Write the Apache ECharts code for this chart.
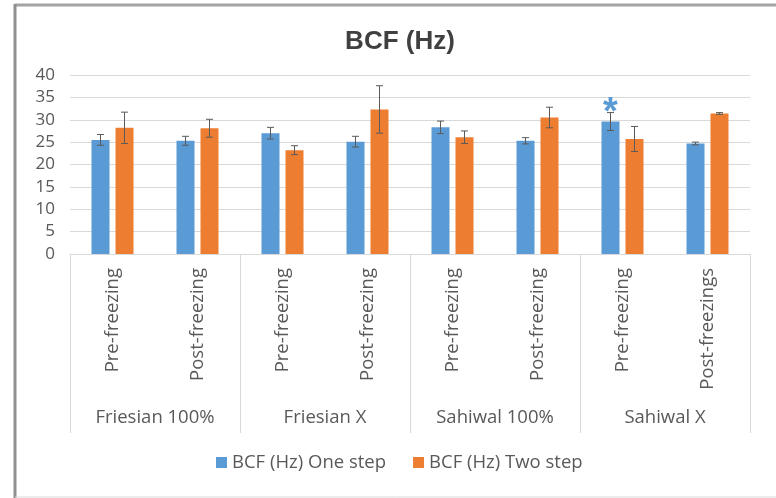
<!DOCTYPE html>
<html>
<head>
<meta charset="utf-8">
<script src="https://cdn.jsdelivr.net/npm/echarts@6/dist/echarts.min.js"></script>
<style>
  html, body { margin: 0; padding: 0; background: #ffffff; }
  #chart { width: 776px; height: 498px; }
</style>
</head>
<body>
<div id="chart"></div>
<script>
// Sub-categories (one per bar pair) and the breed groups they belong to
const stages = ['Pre-freezing', 'Post-freezing', 'Pre-freezing', 'Post-freezing',
                'Pre-freezing', 'Post-freezing', 'Pre-freezing', 'Post-freezings'];
const breeds = ['Friesian 100%', 'Friesian X', 'Sahiwal 100%', 'Sahiwal X'];

// BCF (Hz) means and error-bar half widths
const oneStep    = [25.5, 25.3, 27.0, 25.1, 28.3, 25.3, 29.6, 24.7];
const oneStepErr = [1.2, 1.0, 1.3, 1.2, 1.4, 0.7, 2.0, 0.3];
const twoStep    = [28.2, 28.1, 23.2, 32.3, 26.1, 30.5, 25.7, 31.4];
const twoStepErr = [3.5, 2.0, 1.0, 5.3, 1.4, 2.3, 2.8, 0.2];

// Significance markers drawn above the one-step bars
const oneStepSig = ['', '', '', '', '', '', '*', ''];

const yTicks = { min: 0, max: 40, interval: 5 };

const seriesNames = ['BCF (Hz) One step', 'BCF (Hz) Two step'];
const BLUE = '#5b9bd5';
const ORANGE = '#ed7d31';
const TEXT = '#595959';
const GRID_LINE = '#d9d9d9';
const FONT = '"Open Sans", "Noto Sans", sans-serif';

// Bar geometry (pixels) used for both the bars and their error whiskers
const BAR_W = 18;
const BAR_GAP = 6;

function errorBars(values, errs, side, sig, sigColor) {
  const data = values.map((v, i) => [i, v, errs[i], sig ? sig[i] : '']);
  return {
    type: 'custom',
    xAxisIndex: 0,
    yAxisIndex: 0,
    z: 5,
    silent: true,
    data: data,
    renderItem: function (params, api) {
      const i = api.value(0);
      const v = api.value(1);
      const e = api.value(2);
      const mark = data[params.dataIndex][3];
      const off = side * (BAR_W + BAR_GAP) / 2;
      const top = api.coord([i, v + e]);
      const bot = api.coord([i, v - e]);
      const x = top[0] + off;
      const cap = 3.5;
      const style = { stroke: '#5a5a5a', lineWidth: 1 };
      const children = [
        { type: 'line', shape: { x1: x, y1: top[1], x2: x, y2: bot[1] }, style: style },
        { type: 'line', shape: { x1: x - cap, y1: top[1], x2: x + cap, y2: top[1] }, style: style },
        { type: 'line', shape: { x1: x - cap, y1: bot[1], x2: x + cap, y2: bot[1] }, style: style }
      ];
      if (mark) {
        children.push({
          type: 'text',
          style: {
            text: mark, x: x, y: top[1] + 1,
            textAlign: 'center', textVerticalAlign: 'middle',
            fill: sigColor, font: 'bold 38px "Liberation Sans", sans-serif'
          }
        });
      }
      return { type: 'group', children: children };
    }
  };
}

const chart = echarts.init(document.getElementById('chart'), null, { renderer: 'canvas' });

chart.setOption({
  backgroundColor: '#ffffff',
  animation: false,
  title: {
    text: 'BCF (Hz)',
    left: 395,
    top: 24,
    textAlign: 'center',
    textStyle: { fontFamily: '"Liberation Sans", Arial, sans-serif', fontWeight: 'bold', fontSize: 26, color: '#404040' }
  },
  legend: {
    data: seriesNames,
    left: 211,
    top: 448,
    itemWidth: 11,
    itemHeight: 11,
    itemGap: 27,
    icon: 'rect',
    textStyle: { fontFamily: FONT, fontSize: 18.5, color: TEXT }
  },
  grid: { left: 70, right: 26, top: 75, bottom: 244 },
  xAxis: [
    {
      type: 'category',
      data: stages,
      position: 'bottom',
      axisLine: { lineStyle: { color: GRID_LINE } },
      axisTick: { show: false },
      axisLabel: { rotate: 90, margin: 14, interval: 0, fontFamily: FONT, fontSize: 18.5, color: TEXT }
    },
    {
      type: 'category',
      data: breeds,
      position: 'bottom',
      axisLine: { show: false },
      axisTick: { show: true, interval: 0, length: 179, lineStyle: { color: GRID_LINE } },
      axisLabel: { margin: 154, interval: 0, fontFamily: FONT, fontSize: 18.5, color: TEXT },
      splitLine: { show: false }
    }
  ],
  yAxis: {
    type: 'value',
    min: yTicks.min,
    max: yTicks.max,
    interval: yTicks.interval,
    axisLine: { show: false },
    axisTick: { show: false },
    axisLabel: { margin: 15, fontFamily: FONT, fontSize: 17, color: TEXT },
    splitLine: { lineStyle: { color: GRID_LINE } }
  },
  graphic: [
    // chart-area frame
    { type: 'line', shape: { x1: 15, y1: 5, x2: 776, y2: 5 }, style: { stroke: '#a3a3a3', lineWidth: 3 }, z: 10 },
    { type: 'line', shape: { x1: 15, y1: 4, x2: 15, y2: 498 }, style: { stroke: '#8f8f8f', lineWidth: 3 }, z: 10 },
    { type: 'line', shape: { x1: 15, y1: 497, x2: 776, y2: 497 }, style: { stroke: '#d9d9d9', lineWidth: 1 }, z: 10 }
  ],
  series: [
    {
      name: seriesNames[0],
      type: 'bar',
      data: oneStep,
      barWidth: BAR_W,
      barGap: (BAR_GAP / BAR_W * 100) + '%',
      itemStyle: { color: BLUE }
    },
    {
      name: seriesNames[1],
      type: 'bar',
      data: twoStep,
      barWidth: BAR_W,
      itemStyle: { color: ORANGE }
    },
    errorBars(oneStep, oneStepErr, -1, oneStepSig, BLUE),
    errorBars(twoStep, twoStepErr, 1, null, ORANGE)
  ]
});
</script>
</body>
</html>
